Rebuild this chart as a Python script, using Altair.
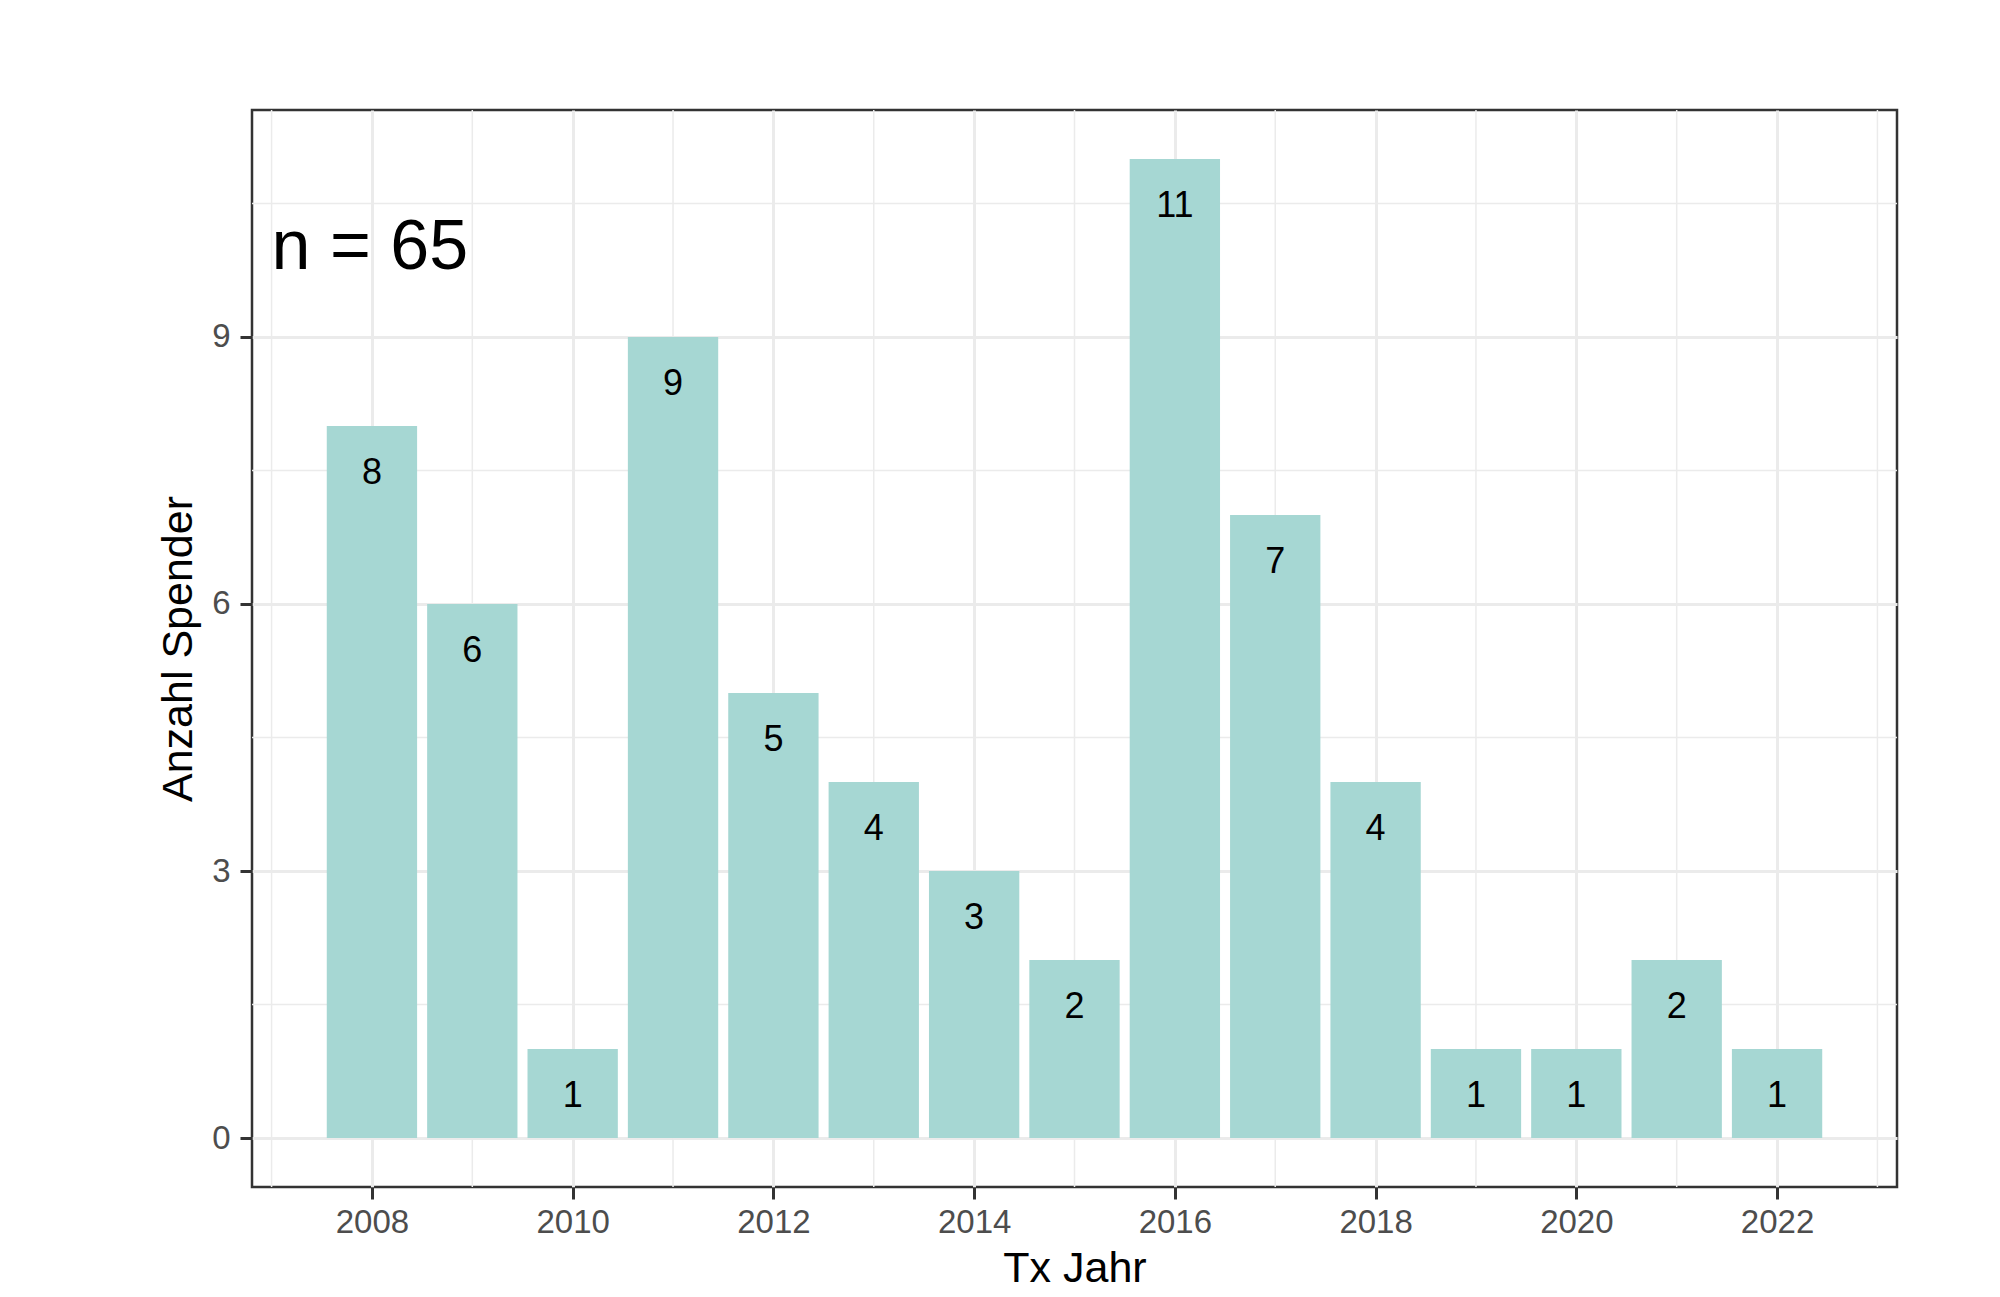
import altair as alt
import pandas as pd

# ---- data ----
years = [2008, 2009, 2010, 2011, 2012, 2013, 2014, 2015, 2016, 2017, 2018, 2019, 2020, 2021, 2022]
counts = [8, 6, 1, 9, 5, 4, 3, 2, 11, 7, 4, 1, 1, 2, 1]
x_ticks = [2008, 2010, 2012, 2014, 2016, 2018, 2020, 2022]
y_ticks = [0, 3, 6, 9]
x_minor = [2007, 2009, 2011, 2013, 2015, 2017, 2019, 2021, 2023]
y_minor = [1.5, 4.5, 7.5, 10.5]
annotation_x = [2007]
annotation_y = [10]
annotation_text = ["n = 65"]

FONT = "Liberation Sans"
BAR_COLOR = "#A6D7D3"
GRID = "#EBEBEB"

df = pd.DataFrame({"year": years, "count": counts})

# ggplot-like expanded domains
bw = 0.9
xmin, xmax = min(years) - bw / 2, max(years) + bw / 2
xr = xmax - xmin
ymax = max(counts)
xscale = alt.Scale(domain=[xmin - 0.05 * xr, xmax + 0.05 * xr], nice=False, zero=False)
yscale = alt.Scale(domain=[-0.05 * ymax, ymax * 1.05], nice=False, zero=False)

X_AX = alt.Axis(values=x_ticks, format="d", grid=True, gridColor=GRID, gridWidth=3,
                labelPadding=7, titlePadding=8)
Y_AX = alt.Axis(values=y_ticks, grid=True, gridColor=GRID, gridWidth=3,
                labelPadding=10, titlePadding=11)
X_TITLE = "Tx Jahr"
Y_TITLE = "Anzahl Spender"

minor_x = alt.Chart(pd.DataFrame({"v": x_minor})).mark_rule(color=GRID, strokeWidth=1.5).encode(
    x=alt.X("v:Q", scale=xscale, axis=X_AX, title=X_TITLE)
)
minor_y = alt.Chart(pd.DataFrame({"v": y_minor})).mark_rule(color=GRID, strokeWidth=1.5).encode(
    y=alt.Y("v:Q", scale=yscale, axis=Y_AX, title=Y_TITLE)
)

bars = alt.Chart(df).transform_calculate(
    x0=f"datum.year - {bw/2}", x1=f"datum.year + {bw/2}"
).mark_bar(color=BAR_COLOR).encode(
    x=alt.X("x0:Q", scale=xscale, title=X_TITLE, axis=X_AX),
    x2="x1:Q",
    y=alt.Y("count:Q", scale=yscale, title=Y_TITLE, axis=Y_AX),
    y2=alt.datum(0),
)

labels = alt.Chart(df).transform_calculate(ly="datum.count - 0.53").mark_text(
    font=FONT, fontSize=36, color="black", baseline="middle", align="center"
).encode(
    x=alt.X("year:Q", scale=xscale, axis=X_AX, title=X_TITLE),
    y=alt.Y("ly:Q", scale=yscale, axis=Y_AX, title=Y_TITLE),
    text=alt.Text("count:Q"),
)

annot = alt.Chart(pd.DataFrame({"x": annotation_x, "y": annotation_y, "t": annotation_text})).mark_text(
    font=FONT, fontSize=70, color="black", baseline="middle", align="left"
).encode(
    x=alt.X("x:Q", scale=xscale, axis=X_AX, title=X_TITLE),
    y=alt.Y("y:Q", scale=yscale, axis=Y_AX, title=Y_TITLE),
    text="t:N",
)

chart = alt.layer(minor_x, minor_y, bars, labels, annot).properties(
    width=1645,
    height=1077,
    background="white",
    autosize=alt.AutoSizeParams(type="none"),
    padding={"left": 244, "top": 102, "right": 95, "bottom": 102},
).configure_view(
    stroke="#333333", strokeWidth=2.5
).configure_axis(
    domain=False,
    tickColor="#333333", tickWidth=3, tickSize=12,
    labelColor="#4D4D4D", labelFont=FONT, labelFontSize=33,
    titleColor="black", titleFont=FONT, titleFontSize=43, titleFontWeight="normal",
)

chart.save("out.html", embed_options={"renderer": "svg", "actions": False})
